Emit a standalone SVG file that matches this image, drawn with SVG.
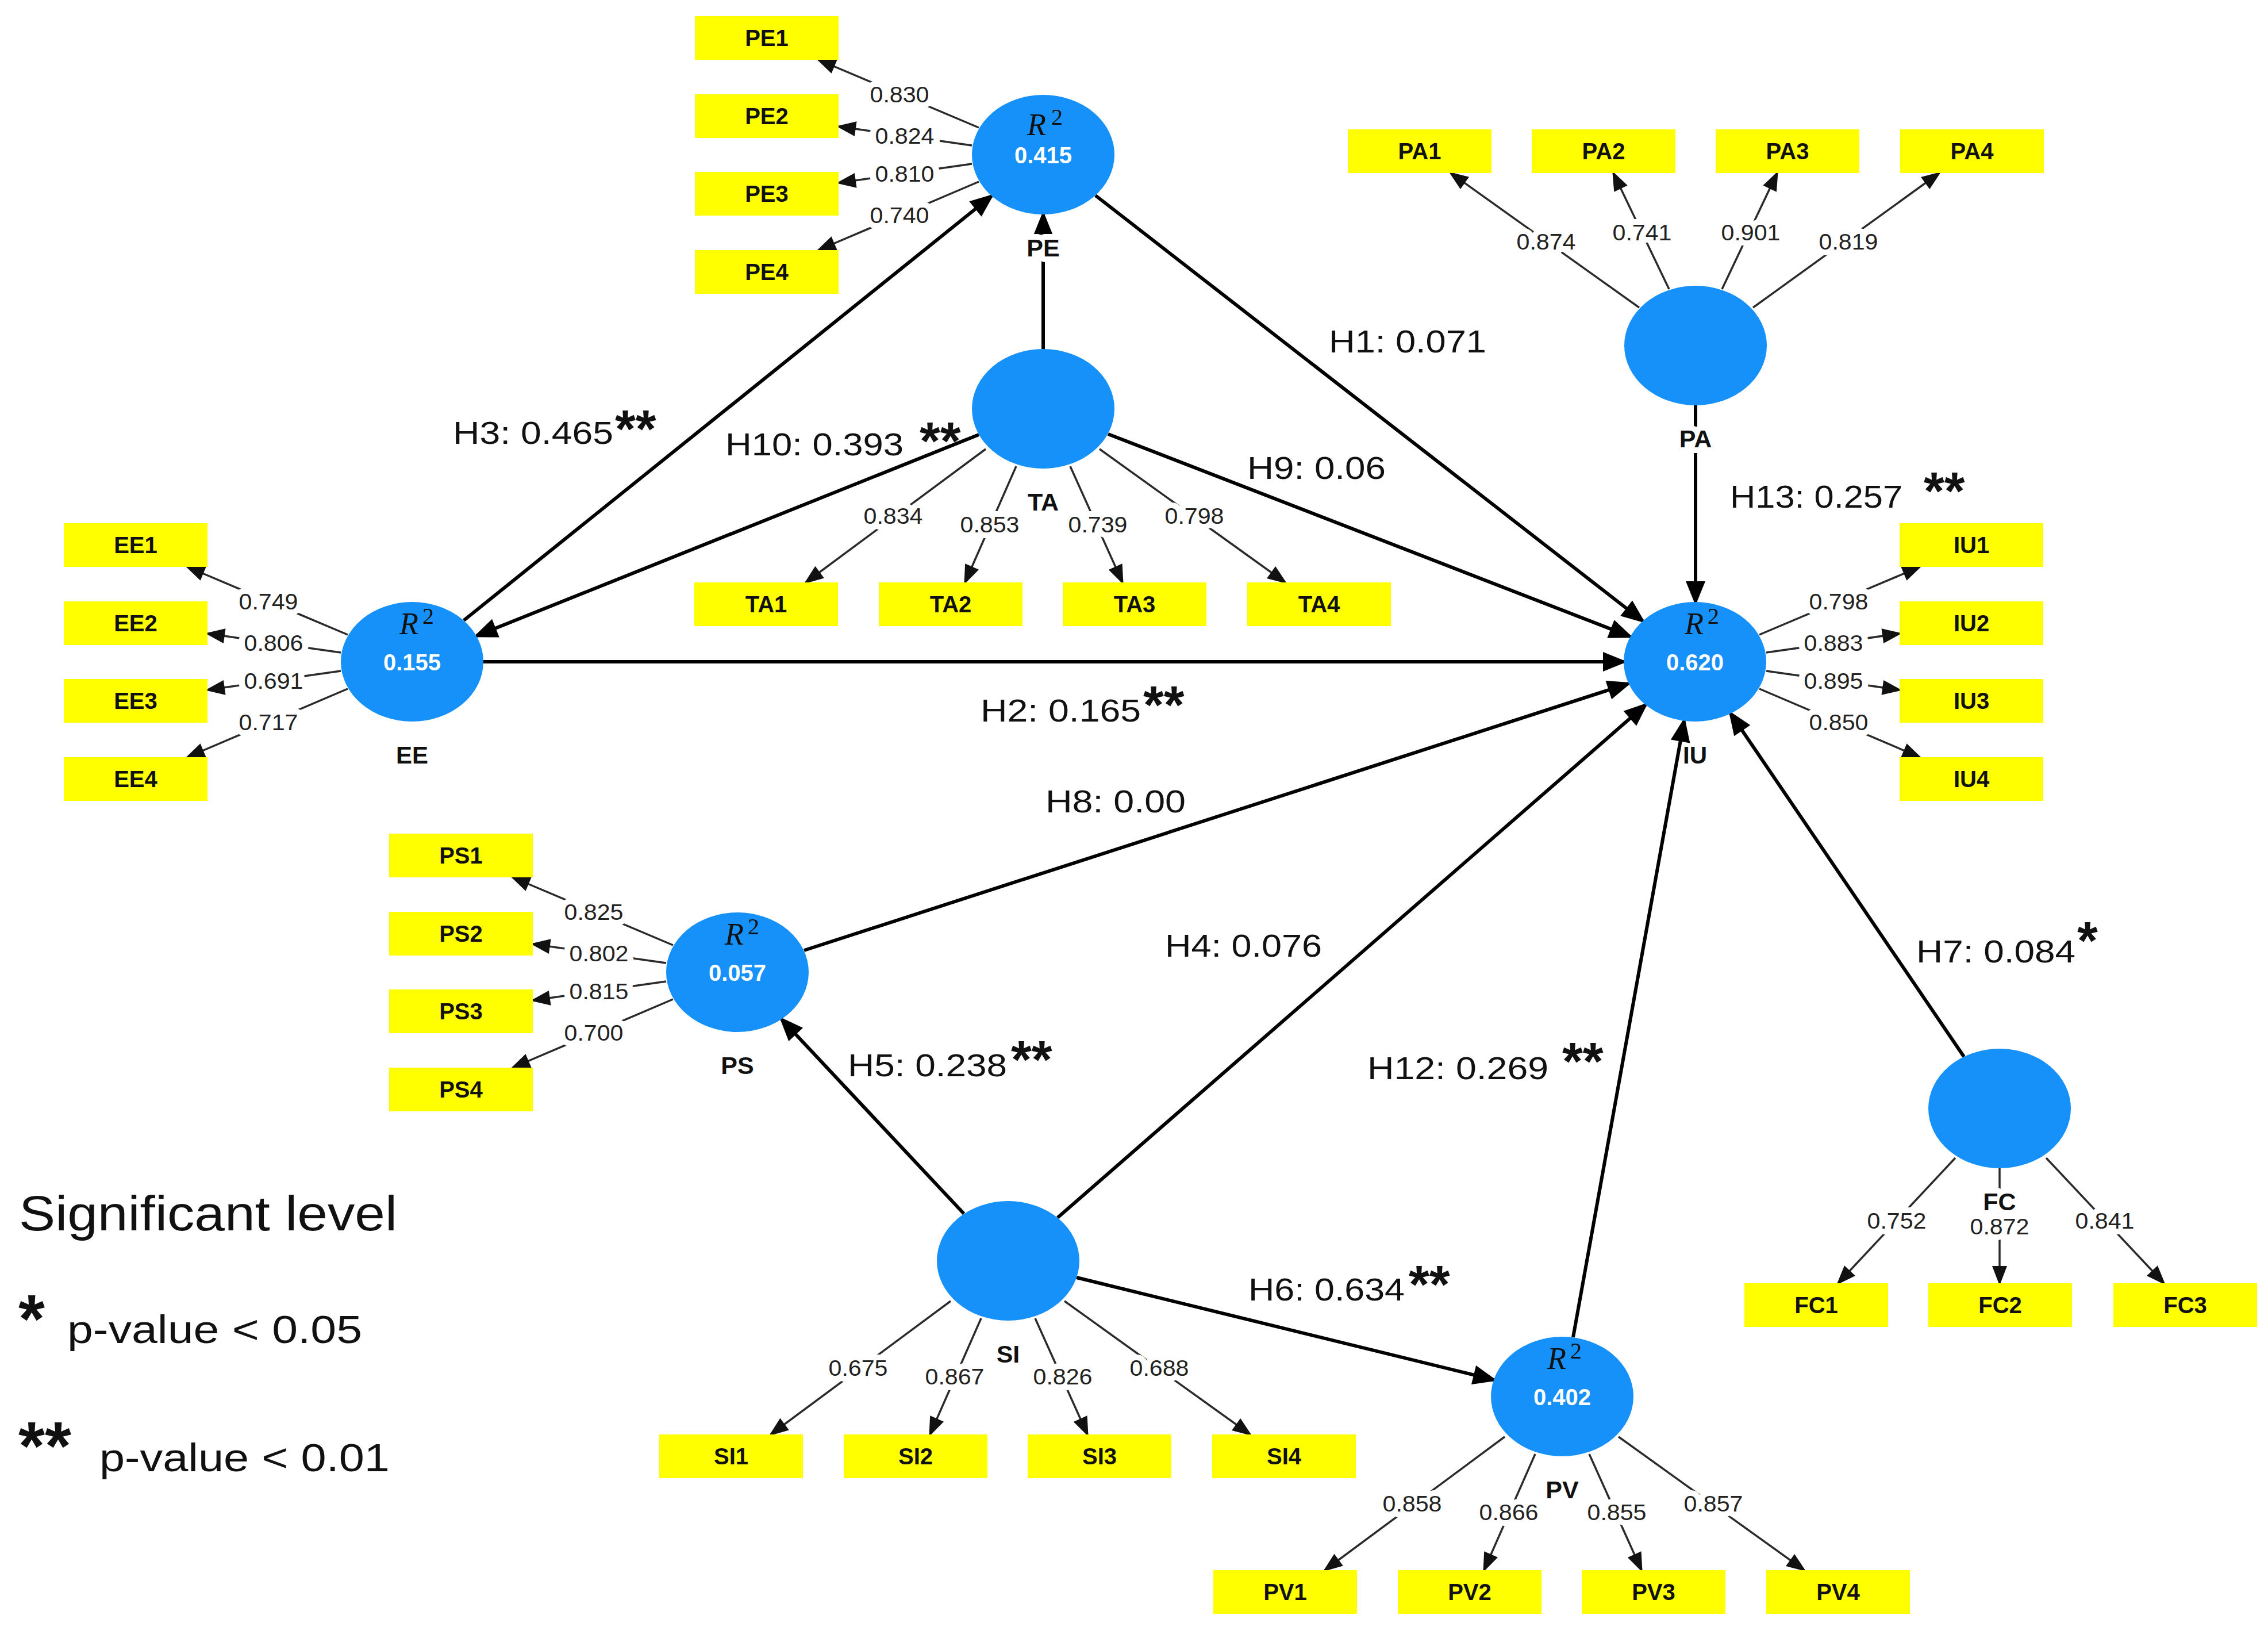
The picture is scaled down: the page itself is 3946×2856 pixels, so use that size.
<svg xmlns="http://www.w3.org/2000/svg" width="3946" height="2856" viewBox="0 0 3946 2856">
<defs>
<style>
text{font-family:"Liberation Sans",Arial,sans-serif;}
.bx rect{fill:#ffff00;}
.bx text{font-size:40px;font-weight:bold;fill:#111;text-anchor:middle;}
.lv ellipse{fill:#1591f9;}
.val{font-size:40px;font-weight:bold;fill:#fff;text-anchor:middle;}
.r2{font-family:"Liberation Serif","Times New Roman",serif;font-style:italic;font-size:54px;fill:#111;}
.sup{font-family:"Liberation Serif","Times New Roman",serif;font-size:40px;fill:#111;}
.cn{font-size:43px;font-weight:bold;fill:#111;text-anchor:middle;stroke:#fff;stroke-width:20px;paint-order:stroke;stroke-linejoin:round;}
.cnb{font-size:42px;font-weight:bold;fill:#111;text-anchor:middle;}
.ld{font-size:38px;fill:#222;text-anchor:middle;stroke:#fff;stroke-width:20px;paint-order:stroke;stroke-linejoin:round;}
.hl{font-size:55px;fill:#111;}
.st{font-size:92px;font-weight:bold;fill:#111;}
.lg{fill:#111;}
.s{stroke:#000;stroke-width:6;fill:none;marker-end:url(#arS);}
.l{stroke:#2a2a2a;stroke-width:3.5;fill:none;marker-end:url(#arL);}
</style>
<marker id="arS" markerUnits="userSpaceOnUse" markerWidth="44" markerHeight="36" refX="36" refY="17" orient="auto" overflow="visible"><path d="M0,0 L42,17 L0,34 Z" fill="#000"/></marker>
<marker id="arL" markerUnits="userSpaceOnUse" markerWidth="36" markerHeight="28" refX="30" refY="13" orient="auto" overflow="visible"><path d="M0,0 L34,13 L0,26 Z" fill="#111"/></marker>
</defs>
<rect x="0" y="0" width="3946" height="2856" fill="#fff"/>

<g id="connectors">
<!-- structural paths -->
<line class="s" x1="1906" y1="340" x2="2858" y2="1080"/>
<line class="s" x1="841" y1="1151" x2="2825" y2="1151"/>
<line class="s" x1="807" y1="1079" x2="1725" y2="341"/>
<line class="s" x1="1703" y1="756" x2="829" y2="1106"/>
<line class="s" x1="1928" y1="755" x2="2836" y2="1107"/>
<line class="s" x1="1815" y1="607" x2="1815" y2="373"/>
<line class="s" x1="2950" y1="705" x2="2950" y2="1047"/>
<line class="s" x1="1399" y1="1653" x2="2833" y2="1189"/>
<line class="s" x1="1840" y1="2118" x2="2863" y2="1226"/>
<line class="s" x1="1677" y1="2111" x2="1360" y2="1773"/>
<line class="s" x1="1873" y1="2222" x2="2599" y2="2400"/>
<line class="s" x1="2737" y1="2326" x2="2930" y2="1254"/>
<line class="s" x1="3417" y1="1838" x2="3011" y2="1241"/>
<!-- PE loadings -->
<line class="l" x1="1703" y1="222" x2="1424" y2="104"/>
<line class="l" x1="1691" y1="253" x2="1459" y2="220"/>
<line class="l" x1="1691" y1="285" x2="1459" y2="318"/>
<line class="l" x1="1703" y1="316" x2="1424" y2="435"/>
<!-- EE loadings -->
<line class="l" x1="605" y1="1104" x2="326" y2="986"/>
<line class="l" x1="593" y1="1135" x2="361" y2="1102"/>
<line class="l" x1="593" y1="1167" x2="361" y2="1200"/>
<line class="l" x1="605" y1="1198" x2="326" y2="1317"/>
<!-- PS loadings -->
<line class="l" x1="1171" y1="1644" x2="892" y2="1526"/>
<line class="l" x1="1159" y1="1675" x2="927" y2="1642"/>
<line class="l" x1="1159" y1="1707" x2="927" y2="1740"/>
<line class="l" x1="1171" y1="1738" x2="892" y2="1857"/>
<!-- IU loadings -->
<line class="l" x1="3061" y1="1104" x2="3340" y2="986"/>
<line class="l" x1="3073" y1="1135" x2="3305" y2="1102"/>
<line class="l" x1="3073" y1="1167" x2="3305" y2="1200"/>
<line class="l" x1="3061" y1="1198" x2="3340" y2="1317"/>
<!-- TA loadings -->
<line class="l" x1="1715" y1="781" x2="1402" y2="1013"/>
<line class="l" x1="1768" y1="811" x2="1679" y2="1013"/>
<line class="l" x1="1862" y1="811" x2="1953" y2="1013"/>
<line class="l" x1="1913" y1="781" x2="2236" y2="1013"/>
<!-- SI loadings -->
<line class="l" x1="1654" y1="2263" x2="1341" y2="2495"/>
<line class="l" x1="1707" y1="2293" x2="1618" y2="2495"/>
<line class="l" x1="1801" y1="2293" x2="1892" y2="2495"/>
<line class="l" x1="1852" y1="2263" x2="2175" y2="2495"/>
<!-- PV loadings -->
<line class="l" x1="2618" y1="2499" x2="2305" y2="2731"/>
<line class="l" x1="2671" y1="2529" x2="2582" y2="2731"/>
<line class="l" x1="2765" y1="2529" x2="2856" y2="2731"/>
<line class="l" x1="2816" y1="2499" x2="3139" y2="2731"/>
<!-- PA loadings -->
<line class="l" x1="2852" y1="535" x2="2524" y2="301"/>
<line class="l" x1="2904" y1="503" x2="2807" y2="301"/>
<line class="l" x1="2996" y1="503" x2="3092" y2="301"/>
<line class="l" x1="3050" y1="535" x2="3374" y2="301"/>
<!-- FC loadings -->
<line class="l" x1="3402" y1="2014" x2="3198" y2="2232"/>
<line class="l" x1="3479" y1="2032" x2="3479" y2="2232"/>
<line class="l" x1="3560" y1="2014" x2="3765" y2="2232"/>
</g>

<g id="loading-labels">
<text class="ld" x="1565" y="178" textLength="103" lengthAdjust="spacingAndGlyphs">0.830</text>
<text class="ld" x="1574" y="250" textLength="103" lengthAdjust="spacingAndGlyphs">0.824</text>
<text class="ld" x="1574" y="316" textLength="103" lengthAdjust="spacingAndGlyphs">0.810</text>
<text class="ld" x="1565" y="388" textLength="103" lengthAdjust="spacingAndGlyphs">0.740</text>
<text class="ld" x="467" y="1060" textLength="103" lengthAdjust="spacingAndGlyphs">0.749</text>
<text class="ld" x="476" y="1132" textLength="103" lengthAdjust="spacingAndGlyphs">0.806</text>
<text class="ld" x="476" y="1198" textLength="103" lengthAdjust="spacingAndGlyphs">0.691</text>
<text class="ld" x="467" y="1270" textLength="103" lengthAdjust="spacingAndGlyphs">0.717</text>
<text class="ld" x="1033" y="1600" textLength="103" lengthAdjust="spacingAndGlyphs">0.825</text>
<text class="ld" x="1042" y="1672" textLength="103" lengthAdjust="spacingAndGlyphs">0.802</text>
<text class="ld" x="1042" y="1738" textLength="103" lengthAdjust="spacingAndGlyphs">0.815</text>
<text class="ld" x="1033" y="1810" textLength="103" lengthAdjust="spacingAndGlyphs">0.700</text>
<text class="ld" x="3199" y="1060" textLength="103" lengthAdjust="spacingAndGlyphs">0.798</text>
<text class="ld" x="3190" y="1132" textLength="103" lengthAdjust="spacingAndGlyphs">0.883</text>
<text class="ld" x="3190" y="1198" textLength="103" lengthAdjust="spacingAndGlyphs">0.895</text>
<text class="ld" x="3199" y="1270" textLength="103" lengthAdjust="spacingAndGlyphs">0.850</text>
<text class="ld" x="1554" y="911" textLength="103" lengthAdjust="spacingAndGlyphs">0.834</text>
<text class="ld" x="1722" y="926" textLength="103" lengthAdjust="spacingAndGlyphs">0.853</text>
<text class="ld" x="1910" y="926" textLength="103" lengthAdjust="spacingAndGlyphs">0.739</text>
<text class="ld" x="2078" y="911" textLength="103" lengthAdjust="spacingAndGlyphs">0.798</text>
<text class="ld" x="1493" y="2393" textLength="103" lengthAdjust="spacingAndGlyphs">0.675</text>
<text class="ld" x="1661" y="2408" textLength="103" lengthAdjust="spacingAndGlyphs">0.867</text>
<text class="ld" x="1849" y="2408" textLength="103" lengthAdjust="spacingAndGlyphs">0.826</text>
<text class="ld" x="2017" y="2393" textLength="103" lengthAdjust="spacingAndGlyphs">0.688</text>
<text class="ld" x="2457" y="2629" textLength="103" lengthAdjust="spacingAndGlyphs">0.858</text>
<text class="ld" x="2625" y="2644" textLength="103" lengthAdjust="spacingAndGlyphs">0.866</text>
<text class="ld" x="2813" y="2644" textLength="103" lengthAdjust="spacingAndGlyphs">0.855</text>
<text class="ld" x="2981" y="2629" textLength="103" lengthAdjust="spacingAndGlyphs">0.857</text>
<text class="ld" x="2690" y="434" textLength="103" lengthAdjust="spacingAndGlyphs">0.874</text>
<text class="ld" x="2857" y="418" textLength="103" lengthAdjust="spacingAndGlyphs">0.741</text>
<text class="ld" x="3046" y="418" textLength="103" lengthAdjust="spacingAndGlyphs">0.901</text>
<text class="ld" x="3216" y="434" textLength="103" lengthAdjust="spacingAndGlyphs">0.819</text>
<text class="ld" x="3300" y="2137" textLength="103" lengthAdjust="spacingAndGlyphs">0.752</text>
<text class="ld" x="3479" y="2147" textLength="103" lengthAdjust="spacingAndGlyphs">0.872</text>
<text class="ld" x="3662" y="2137" textLength="103" lengthAdjust="spacingAndGlyphs">0.841</text>
</g>

<g id="path-labels">
<text class="hl" x="2312" y="613" textLength="274" lengthAdjust="spacingAndGlyphs">H1: 0.071</text>
<text class="hl" x="788" y="772" textLength="279" lengthAdjust="spacingAndGlyphs">H3: 0.465</text>
<text class="st" x="1070" y="778">**</text>
<text class="hl" x="1262" y="792" textLength="310" lengthAdjust="spacingAndGlyphs">H10: 0.393</text>
<text class="st" x="1600" y="799">**</text>
<text class="hl" x="2170" y="833" textLength="241" lengthAdjust="spacingAndGlyphs">H9: 0.06</text>
<text class="hl" x="3010" y="883" textLength="300" lengthAdjust="spacingAndGlyphs">H13: 0.257</text>
<text class="st" x="3347" y="886">**</text>
<text class="hl" x="1706" y="1255" textLength="279" lengthAdjust="spacingAndGlyphs">H2: 0.165</text>
<text class="st" x="1989" y="1258">**</text>
<text class="hl" x="1819" y="1413" textLength="244" lengthAdjust="spacingAndGlyphs">H8: 0.00</text>
<text class="hl" x="2027" y="1664" textLength="273" lengthAdjust="spacingAndGlyphs">H4: 0.076</text>
<text class="hl" x="3334" y="1674" textLength="277" lengthAdjust="spacingAndGlyphs">H7: 0.084</text>
<text class="st" x="3614" y="1668">*</text>
<text class="hl" x="2379" y="1877" textLength="315" lengthAdjust="spacingAndGlyphs">H12: 0.269</text>
<text class="st" x="2718" y="1878">**</text>
<text class="hl" x="1475" y="1872" textLength="277" lengthAdjust="spacingAndGlyphs">H5: 0.238</text>
<text class="st" x="1759" y="1875">**</text>
<text class="hl" x="2172" y="2262" textLength="272" lengthAdjust="spacingAndGlyphs">H6: 0.634</text>
<text class="st" x="2451" y="2266">**</text>
</g>

<g id="node-PE" class="lv" transform="translate(1815,269)">
<ellipse cx="0" cy="0" rx="124" ry="104"/>
<text class="r2" x="-28" y="-34">R</text><text class="sup" x="14" y="-52">2</text>
<text class="val" x="0" y="15">0.415</text>
<text class="cn" x="0" y="177">PE</text>
</g>
<g id="node-TA" class="lv" transform="translate(1815,711)">
<ellipse cx="0" cy="0" rx="124" ry="104"/>
<text class="cn" x="0" y="177">TA</text>
</g>
<g id="node-EE" class="lv" transform="translate(717,1151)">
<ellipse cx="0" cy="0" rx="124" ry="104"/>
<text class="r2" x="-22" y="-48">R</text><text class="sup" x="18" y="-66">2</text>
<text class="val" x="0" y="15">0.155</text>
<text class="cnb" x="0" y="177">EE</text>
</g>
<g id="node-IU" class="lv" transform="translate(2949,1151)">
<ellipse cx="0" cy="0" rx="124" ry="104"/>
<text class="r2" x="-18" y="-48">R</text><text class="sup" x="22" y="-66">2</text>
<text class="val" x="0" y="15">0.620</text>
<text class="cnb" x="0" y="177">IU</text>
</g>
<g id="node-PA" class="lv" transform="translate(2950,601)">
<ellipse cx="0" cy="0" rx="124" ry="104"/>
<text class="cn" x="0" y="177">PA</text>
</g>
<g id="node-PS" class="lv" transform="translate(1283,1691)">
<ellipse cx="0" cy="0" rx="124" ry="104"/>
<text class="r2" x="-22" y="-48">R</text><text class="sup" x="18" y="-66">2</text>
<text class="val" x="0" y="15">0.057</text>
<text class="cn" x="0" y="177">PS</text>
</g>
<g id="node-SI" class="lv" transform="translate(1754,2193)">
<ellipse cx="0" cy="0" rx="124" ry="104"/>
<text class="cn" x="0" y="177">SI</text>
</g>
<g id="node-PV" class="lv" transform="translate(2718,2429)">
<ellipse cx="0" cy="0" rx="124" ry="104"/>
<text class="r2" x="-26" y="-48">R</text><text class="sup" x="14" y="-66">2</text>
<text class="val" x="0" y="15">0.402</text>
<text class="cn" x="0" y="177">PV</text>
</g>
<g id="node-FC" class="lv" transform="translate(3479,1928)">
<ellipse cx="0" cy="0" rx="124" ry="104"/>
<text class="cn" x="0" y="177">FC</text>
</g>

<g id="ind-PE1" class="bx"><rect x="1209" y="28" width="250" height="76"/><text x="1334" y="80">PE1</text></g>
<g id="ind-PE2" class="bx"><rect x="1209" y="164" width="250" height="76"/><text x="1334" y="216">PE2</text></g>
<g id="ind-PE3" class="bx"><rect x="1209" y="299" width="250" height="76"/><text x="1334" y="351">PE3</text></g>
<g id="ind-PE4" class="bx"><rect x="1209" y="435" width="250" height="76"/><text x="1334" y="487">PE4</text></g>

<g id="ind-EE1" class="bx"><rect x="111" y="910" width="250" height="76"/><text x="236" y="962">EE1</text></g>
<g id="ind-EE2" class="bx"><rect x="111" y="1046" width="250" height="76"/><text x="236" y="1098">EE2</text></g>
<g id="ind-EE3" class="bx"><rect x="111" y="1181" width="250" height="76"/><text x="236" y="1233">EE3</text></g>
<g id="ind-EE4" class="bx"><rect x="111" y="1317" width="250" height="76"/><text x="236" y="1369">EE4</text></g>

<g id="ind-PS1" class="bx"><rect x="677" y="1450" width="250" height="76"/><text x="802" y="1502">PS1</text></g>
<g id="ind-PS2" class="bx"><rect x="677" y="1586" width="250" height="76"/><text x="802" y="1638">PS2</text></g>
<g id="ind-PS3" class="bx"><rect x="677" y="1721" width="250" height="76"/><text x="802" y="1773">PS3</text></g>
<g id="ind-PS4" class="bx"><rect x="677" y="1857" width="250" height="76"/><text x="802" y="1909">PS4</text></g>

<g id="ind-IU1" class="bx"><rect x="3305" y="910" width="250" height="76"/><text x="3430" y="962">IU1</text></g>
<g id="ind-IU2" class="bx"><rect x="3305" y="1046" width="250" height="76"/><text x="3430" y="1098">IU2</text></g>
<g id="ind-IU3" class="bx"><rect x="3305" y="1181" width="250" height="76"/><text x="3430" y="1233">IU3</text></g>
<g id="ind-IU4" class="bx"><rect x="3305" y="1317" width="250" height="76"/><text x="3430" y="1369">IU4</text></g>

<g id="ind-TA1" class="bx"><rect x="1208" y="1013" width="250" height="76"/><text x="1333" y="1065">TA1</text></g>
<g id="ind-TA2" class="bx"><rect x="1529" y="1013" width="250" height="76"/><text x="1654" y="1065">TA2</text></g>
<g id="ind-TA3" class="bx"><rect x="1849" y="1013" width="250" height="76"/><text x="1974" y="1065">TA3</text></g>
<g id="ind-TA4" class="bx"><rect x="2170" y="1013" width="250" height="76"/><text x="2295" y="1065">TA4</text></g>

<g id="ind-SI1" class="bx"><rect x="1147" y="2495" width="250" height="76"/><text x="1272" y="2547">SI1</text></g>
<g id="ind-SI2" class="bx"><rect x="1468" y="2495" width="250" height="76"/><text x="1593" y="2547">SI2</text></g>
<g id="ind-SI3" class="bx"><rect x="1788" y="2495" width="250" height="76"/><text x="1913" y="2547">SI3</text></g>
<g id="ind-SI4" class="bx"><rect x="2109" y="2495" width="250" height="76"/><text x="2234" y="2547">SI4</text></g>

<g id="ind-PV1" class="bx"><rect x="2111" y="2731" width="250" height="76"/><text x="2236" y="2783">PV1</text></g>
<g id="ind-PV2" class="bx"><rect x="2432" y="2731" width="250" height="76"/><text x="2557" y="2783">PV2</text></g>
<g id="ind-PV3" class="bx"><rect x="2752" y="2731" width="250" height="76"/><text x="2877" y="2783">PV3</text></g>
<g id="ind-PV4" class="bx"><rect x="3073" y="2731" width="250" height="76"/><text x="3198" y="2783">PV4</text></g>

<g id="ind-PA1" class="bx"><rect x="2345" y="225" width="250" height="76"/><text x="2470" y="277">PA1</text></g>
<g id="ind-PA2" class="bx"><rect x="2665" y="225" width="250" height="76"/><text x="2790" y="277">PA2</text></g>
<g id="ind-PA3" class="bx"><rect x="2985" y="225" width="250" height="76"/><text x="3110" y="277">PA3</text></g>
<g id="ind-PA4" class="bx"><rect x="3306" y="225" width="250" height="76"/><text x="3431" y="277">PA4</text></g>

<g id="ind-FC1" class="bx"><rect x="3035" y="2232" width="250" height="76"/><text x="3160" y="2284">FC1</text></g>
<g id="ind-FC2" class="bx"><rect x="3355" y="2232" width="250" height="76"/><text x="3480" y="2284">FC2</text></g>
<g id="ind-FC3" class="bx"><rect x="3677" y="2232" width="250" height="76"/><text x="3802" y="2284">FC3</text></g>

<g id="legend">
<text class="lg" x="33" y="2140" font-size="85" textLength="658" lengthAdjust="spacingAndGlyphs">Significant level</text>
<text class="lg" x="32" y="2335" font-size="118" font-weight="bold">*</text>
<text class="lg" x="117" y="2336" font-size="68" textLength="513" lengthAdjust="spacingAndGlyphs">p-value &lt; 0.05</text>
<text class="lg" x="32" y="2556" font-size="118" font-weight="bold">**</text>
<text class="lg" x="173" y="2559" font-size="68" textLength="505" lengthAdjust="spacingAndGlyphs">p-value &lt; 0.01</text>
</g>
</svg>
